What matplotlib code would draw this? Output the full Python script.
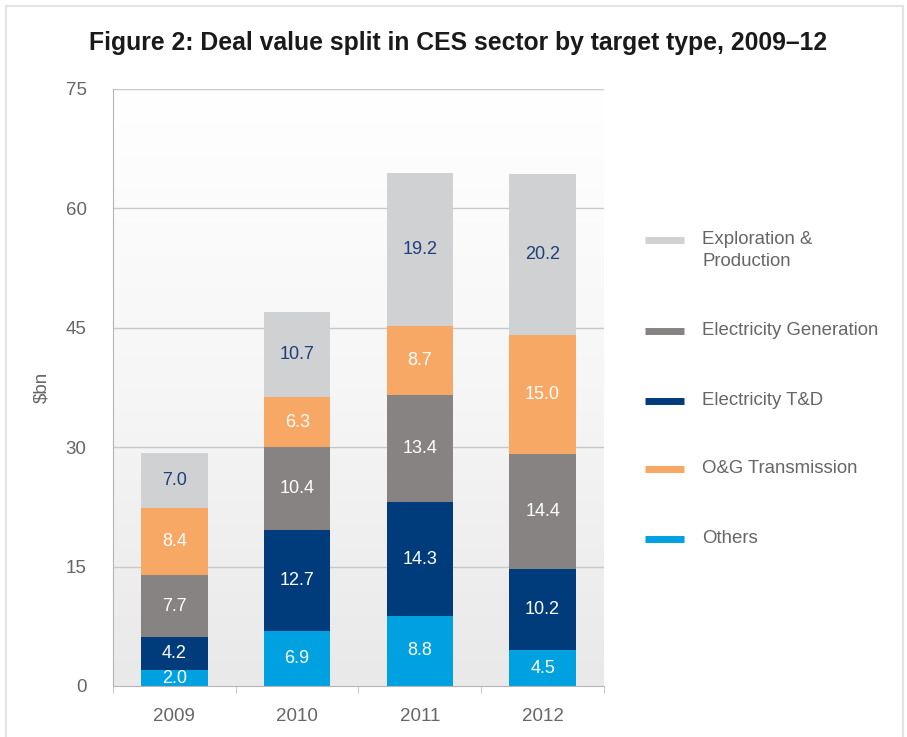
import numpy as np
import matplotlib.pyplot as plt
from matplotlib.patches import Rectangle
from matplotlib.lines import Line2D
from matplotlib.colors import LinearSegmentedColormap

plt.rcParams['font.family'] = ['Liberation Sans', 'DejaVu Sans']

years = ["2009", "2010", "2011", "2012"]
# stacking order, bottom to top
series = ["Others", "Electricity T&D", "Electricity Generation", "O&G Transmission", "Exploration &\nProduction"]
others = [2.0, 6.9, 8.8, 4.5]
elec_td = [4.2, 12.7, 14.3, 10.2]
elec_gen = [7.7, 10.4, 13.4, 14.4]
og_trans = [8.4, 6.3, 8.7, 15.0]
expl_prod = [7.0, 10.7, 19.2, 20.2]
colors = ["#00a1e0", "#003b7c", "#868382", "#f7a864", "#d0d1d3"]
label_colors = ["white", "white", "white", "white", "#1f3f7a"]
legend_order = [4, 2, 1, 3, 0]

values = [others, elec_td, elec_gen, og_trans, expl_prod]

fig = plt.figure(figsize=(9.07, 7.37), dpi=100)
ax = fig.add_axes([113 / 907, 1 - 686 / 737, (604 - 113) / 907, (686 - 89) / 737])

x = np.arange(len(years))
ax.set_xlim(-0.5, 3.5)
ax.set_ylim(0, 75)

# gradient background, white at top to light grey at bottom
grad = np.linspace(0, 1, 256).reshape(-1, 1)
cmap = LinearSegmentedColormap.from_list("g", ["#e9e9e9", "#f6f6f6", "#ffffff"])
ax.imshow(grad, extent=(-0.5, 3.5, 0, 75), aspect='auto', cmap=cmap, origin='lower', zorder=0)

for yv in [15, 30, 45, 60, 75]:
    ax.axhline(yv, color="#c8c8c8", lw=1, zorder=1)

bottom = np.zeros(len(years))
for vals, c, lc in zip(values, colors, label_colors):
    ax.bar(x, vals, 0.54, bottom=bottom, color=c, zorder=2)
    for xi, b, v in zip(x, bottom, vals):
        ax.text(xi, b + v / 2, f"{v:.1f}", ha='center', va='center', color=lc, fontsize=13, zorder=3)
    bottom += np.array(vals)

ax.set_yticks([0, 15, 30, 45, 60, 75])
ax.tick_params(axis='y', length=0, pad=19, labelsize=13.5, labelcolor="#666666")
ax.set_xticks(x)
ax.set_xticklabels(years)
ax.tick_params(axis='x', length=0, pad=16, labelsize=13.5, labelcolor="#666666")
ax.set_xticks(np.arange(-0.5, 4, 1), minor=True)
ax.tick_params(axis='x', which='minor', length=5, color="#bbbbbb", direction='out', pad=0)
for sp in ["left", "bottom"]:
    ax.spines[sp].set_color("#b5b5b5")
for sp in ["right", "top"]:
    ax.spines[sp].set_visible(False)

ax.set_ylabel("$bn", fontsize=13.5, color="#666666", labelpad=11)

fig.text(458 / 907, 1 - 43 / 737, "Figure 2: Deal value split in CES sector by target type, 2009\u201312",
         ha='center', va='center', fontsize=17.8, fontweight='bold', color="#1a1a1a")

# legend
leg_y = [240, 331, 401, 469, 539]
for i, yp in zip(legend_order, leg_y):
    yf = 1 - yp / 737
    fig.add_artist(Line2D([645 / 907, 684 / 907], [yf, yf], color=colors[i], lw=5,
                          transform=fig.transFigure, solid_capstyle='butt'))
    fig.text(702 / 907, yf + 0.0125, series[i], ha='left', va='top', fontsize=13.4,
             color="#666666", linespacing=1.4)

fig.add_artist(Rectangle((6 / 907, -0.02), 897 / 907, 1 - 6 / 737 + 0.02, transform=fig.transFigure,
                         fill=False, edgecolor="#e3e3e3", lw=1.5))

fig.savefig("out.png", dpi=100)
